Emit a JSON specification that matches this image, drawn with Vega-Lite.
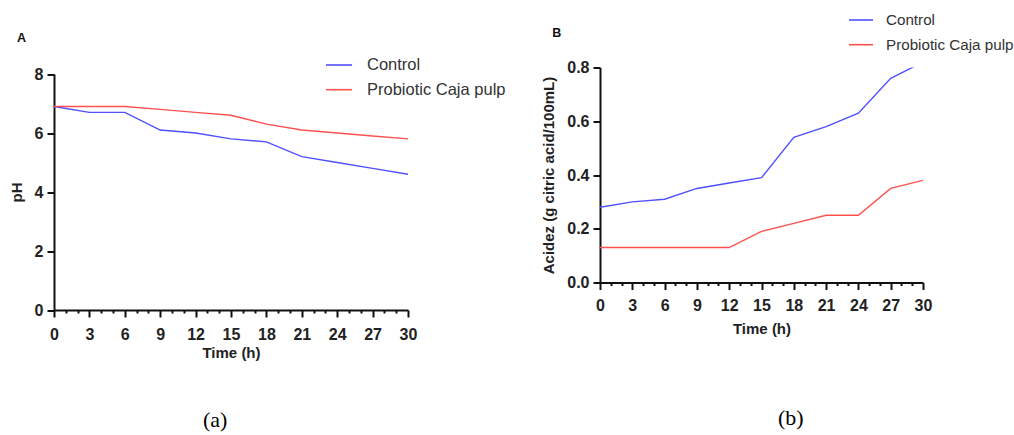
{
  "$schema": "https://vega.github.io/schema/vega-lite/v6.json",
  "background": "white",
  "padding": {"left": 9, "top": 6.5, "right": 0, "bottom": 0},
  "config": {
    "view": {"stroke": null},
    "font": "Liberation Sans",
    "axis": {
      "grid": false,
      "domainColor": "#111",
      "domainWidth": 2,
      "tickColor": "#111",
      "tickWidth": 2,
      "tickSize": 7,
      "labelFont": "Liberation Sans",
      "labelFontWeight": "bold",
      "labelFontSize": 16,
      "labelColor": "#222",
      "labelFlush": false,
      "labelOverlap": false,
      "titleFont": "Liberation Sans",
      "titleFontWeight": "bold",
      "titleFontSize": 15,
      "titleColor": "#222"
    },
    "legend": {
      "padding": 0,
      "labelFont": "Liberation Sans",
      "labelColor": "#333",
      "symbolType": "stroke",
      "symbolStrokeWidth": 1.6,
      "title": null
    },
    "title": {"font": "Liberation Sans", "color": "#111"}
  },
  "datasets": {
    "ph": [
      {"time": 0, "pH": 6.9, "group": "Control"},
      {"time": 3, "pH": 6.7, "group": "Control"},
      {"time": 6, "pH": 6.7, "group": "Control"},
      {"time": 9, "pH": 6.1, "group": "Control"},
      {"time": 12, "pH": 6.0, "group": "Control"},
      {"time": 15, "pH": 5.8, "group": "Control"},
      {"time": 18, "pH": 5.7, "group": "Control"},
      {"time": 21, "pH": 5.2, "group": "Control"},
      {"time": 24, "pH": 5.0, "group": "Control"},
      {"time": 27, "pH": 4.8, "group": "Control"},
      {"time": 30, "pH": 4.6, "group": "Control"},
      {"time": 0, "pH": 6.9, "group": "Probiotic Caja pulp"},
      {"time": 3, "pH": 6.9, "group": "Probiotic Caja pulp"},
      {"time": 6, "pH": 6.9, "group": "Probiotic Caja pulp"},
      {"time": 9, "pH": 6.8, "group": "Probiotic Caja pulp"},
      {"time": 12, "pH": 6.7, "group": "Probiotic Caja pulp"},
      {"time": 15, "pH": 6.6, "group": "Probiotic Caja pulp"},
      {"time": 18, "pH": 6.3, "group": "Probiotic Caja pulp"},
      {"time": 21, "pH": 6.1, "group": "Probiotic Caja pulp"},
      {"time": 24, "pH": 6.0, "group": "Probiotic Caja pulp"},
      {"time": 27, "pH": 5.9, "group": "Probiotic Caja pulp"},
      {"time": 30, "pH": 5.8, "group": "Probiotic Caja pulp"}
    ],
    "acid": [
      {"time": 0, "acidity": 0.28, "group": "Control"},
      {"time": 3, "acidity": 0.30, "group": "Control"},
      {"time": 6, "acidity": 0.31, "group": "Control"},
      {"time": 9, "acidity": 0.35, "group": "Control"},
      {"time": 12, "acidity": 0.37, "group": "Control"},
      {"time": 15, "acidity": 0.39, "group": "Control"},
      {"time": 18, "acidity": 0.54, "group": "Control"},
      {"time": 21, "acidity": 0.58, "group": "Control"},
      {"time": 24, "acidity": 0.63, "group": "Control"},
      {"time": 27, "acidity": 0.76, "group": "Control"},
      {"time": 30, "acidity": 0.82, "group": "Control"},
      {"time": 0, "acidity": 0.13, "group": "Probiotic Caja pulp"},
      {"time": 3, "acidity": 0.13, "group": "Probiotic Caja pulp"},
      {"time": 6, "acidity": 0.13, "group": "Probiotic Caja pulp"},
      {"time": 9, "acidity": 0.13, "group": "Probiotic Caja pulp"},
      {"time": 12, "acidity": 0.13, "group": "Probiotic Caja pulp"},
      {"time": 15, "acidity": 0.19, "group": "Probiotic Caja pulp"},
      {"time": 18, "acidity": 0.22, "group": "Probiotic Caja pulp"},
      {"time": 21, "acidity": 0.25, "group": "Probiotic Caja pulp"},
      {"time": 24, "acidity": 0.25, "group": "Probiotic Caja pulp"},
      {"time": 27, "acidity": 0.35, "group": "Probiotic Caja pulp"},
      {"time": 30, "acidity": 0.38, "group": "Probiotic Caja pulp"}
    ]
  },
  "spacing": 35,
  "resolve": {"scale": {"color": "independent"}, "legend": {"color": "independent"}},
  "hconcat": [
    {
      "title": {"text": "(a)", "orient": "bottom", "anchor": "start", "frame": "group", "font": "Liberation Serif", "fontSize": 22, "fontWeight": "normal", "color": "#000", "offset": 50, "dx": 149},
      "vconcat": [
        {
          "width": 354,
          "height": 242.5,
          "title": {"text": "A", "anchor": "start", "frame": "bounds", "fontSize": 12.5, "fontWeight": "bold", "offset": 21.5, "dx": 8},
          "data": {"name": "ph"},
          "mark": {"type": "line", "strokeWidth": 1.4},
          "encoding": {
            "x": {
              "field": "time", "type": "quantitative",
              "scale": {"domain": [0, 30], "nice": false},
              "axis": {
                "title": "Time (h)",
                "values": [0,1,2,3,4,5,6,7,8,9,10,11,12,13,14,15,16,17,18,19,20,21,22,23,24,25,26,27,28,29,30],
                "labelExpr": "datum.value % 3 === 0 ? datum.label : ''",
                "tickSize": {"condition": {"test": "datum.value % 3 === 0", "value": 7}, "value": 3},
                "labelPadding": 9,
                "titlePadding": 3
              }
            },
            "y": {
              "field": "pH", "type": "quantitative",
              "scale": {"domain": [0, 8], "nice": false, "range": [242.5, 6.5]},
              "axis": {"title": "pH", "values": [0, 2, 4, 6, 8], "labelPadding": 4, "titlePadding": 10}
            },
            "color": {
              "field": "group", "type": "nominal",
              "scale": {"domain": ["Control", "Probiotic Caja pulp"], "range": ["#5050ff", "#ff5050"]},
              "legend": {"orient": "none", "legendX": 271, "legendY": -16.5, "symbolSize": 676, "labelFontSize": 16.5, "labelOffset": 14, "rowPadding": 1.7}
            }
          }
        }
      ]
    },
    {
      "title": {"text": "(b)", "orient": "bottom", "anchor": "start", "frame": "group", "font": "Liberation Serif", "fontSize": 22, "fontWeight": "normal", "color": "#000", "offset": 71.5, "dx": 178},
      "vconcat": [
        {
          "width": 323,
          "height": 215,
          "title": {"text": "B", "anchor": "start", "frame": "bounds", "fontSize": 12.5, "fontWeight": "bold", "offset": 20, "dx": 11},
          "data": {"name": "acid"},
          "mark": {"type": "line", "strokeWidth": 1.4, "clip": true},
          "encoding": {
            "x": {
              "field": "time", "type": "quantitative",
              "scale": {"domain": [0, 30], "nice": false},
              "axis": {
                "title": "Time (h)",
                "values": [0,1,2,3,4,5,6,7,8,9,10,11,12,13,14,15,16,17,18,19,20,21,22,23,24,25,26,27,28,29,30],
                "labelExpr": "datum.value % 3 === 0 ? datum.label : ''",
                "tickSize": {"condition": {"test": "datum.value % 3 === 0", "value": 7}, "value": 3},
                "labelPadding": 8,
                "titlePadding": 7.5
              }
            },
            "y": {
              "field": "acidity", "type": "quantitative",
              "scale": {"domain": [0, 0.8], "nice": false},
              "axis": {"title": "Acidez (g citric acid/100mL)", "values": [0, 0.2, 0.4, 0.6, 0.8], "format": ".1f", "labelPadding": 4, "titlePadding": 10.5}
            },
            "color": {
              "field": "group", "type": "nominal",
              "scale": {"domain": ["Control", "Probiotic Caja pulp"], "range": ["#5050ff", "#ff5050"]},
              "legend": {"orient": "none", "legendX": 248, "legendY": -60.5, "symbolSize": 576, "labelFontSize": 15.2, "labelOffset": 12, "rowPadding": 2.7}
            }
          }
        }
      ]
    }
  ]
}
